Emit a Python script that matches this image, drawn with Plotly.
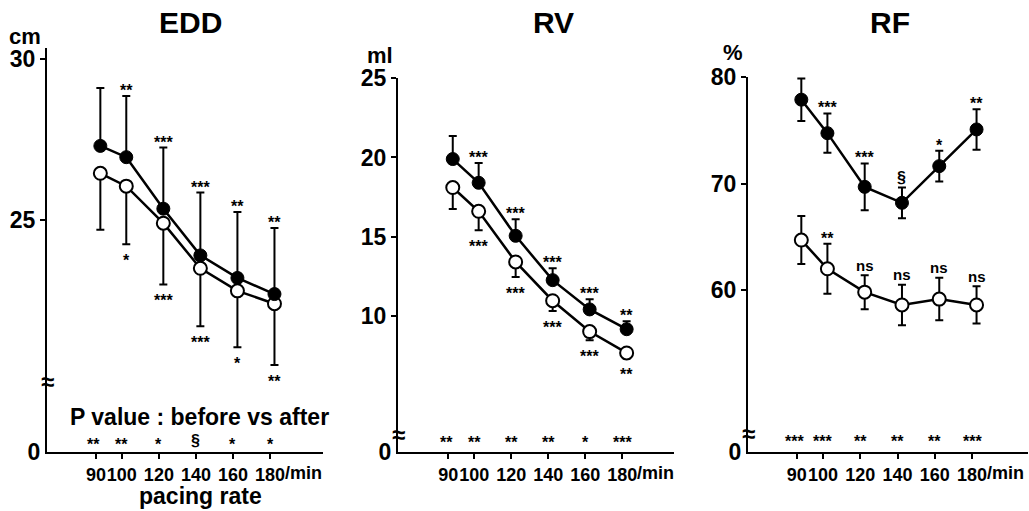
import plotly.graph_objects as go

# ---------------- data ----------------
rates = [90, 100, 120, 140, 160, 180]
rate_labels = ["90", "100", "120", "140", "160", "180"]

edd_filled = [27.3, 26.95, 25.35, 23.9, 23.2, 22.7]
edd_filled_sd = [1.8, 1.9, 1.9, 1.95, 2.05, 2.05]
edd_open = [26.45, 26.05, 24.9, 23.5, 22.8, 22.4]
edd_open_sd = [1.75, 1.8, 1.9, 1.8, 1.75, 1.9]
edd_sig_filled = ["", "**", "***", "***", "**", "**"]
edd_sig_open = ["", "*", "***", "***", "*", "**"]
edd_p = ["**", "**", "*", "§", "*", "*"]

rv_filled = [19.9, 18.4, 15.05, 12.25, 10.4, 9.15]
rv_filled_sd = [1.45, 1.25, 1.05, 0.75, 0.65, 0.5]
rv_open = [18.1, 16.6, 13.4, 10.95, 9.0, 7.65]
rv_open_sd = [1.35, 1.2, 0.95, 0.65, 0.55, 0.35]
rv_sig_filled = ["", "***", "***", "***", "***", "**"]
rv_sig_open = ["", "***", "***", "***", "***", "**"]
rv_p = ["**", "**", "**", "**", "*", "***"]

rf_filled = [77.9, 74.75, 69.7, 68.2, 71.65, 75.1]
rf_filled_sd = [2.0, 1.85, 2.2, 1.45, 1.45, 1.9]
rf_open = [64.7, 62.0, 59.8, 58.6, 59.15, 58.6]
rf_open_sd = [2.25, 2.35, 1.6, 1.9, 2.0, 1.75]
rf_sig_filled = ["", "***", "***", "§", "*", "**"]
rf_sig_open = ["", "**", "ns", "ns", "ns", "ns"]
rf_p = ["***", "***", "**", "**", "**", "***"]

# ---------------- layout helpers ----------------
W, H = 1029, 511
FONT = "Liberation Sans, Arial, Helvetica, sans-serif"
tick_pos = [0.3, 1, 2, 3, 4, 5]      # axis positions of the pacing-rate ticks
pt_off = 0.12                          # points drawn slightly right of ticks
pt_pos = [p + pt_off for p in tick_pos]


def fy(p):
    return 1 - p / H


def fx(p):
    return p / W


panels = [
    dict(title="EDD", unit="cm", filled=edd_filled, fsd=edd_filled_sd, open=edd_open, osd=edd_open_sd,
         sigf=edd_sig_filled, sigo=edd_sig_open, p=edd_p, both=False, open_above=False,
         xdom=(47, 323), xrng=(-1.02, 6.43), topdom=(48, 381), toprng=(20.0, 30.34),
         yticks=[25, 30], unit_xy=(25, 36), title_x=190, prow=440),
    dict(title="RV", unit="ml", filled=rv_filled, fsd=rv_filled_sd, open=rv_open, osd=rv_open_sd,
         sigf=rv_sig_filled, sigo=rv_sig_open, p=rv_p, both=False, open_above=False,
         xdom=(398, 674), xrng=(-1.06, 6.4), topdom=(78, 434), toprng=(2.53, 25.02),
         yticks=[10, 15, 20, 25], unit_xy=(380, 55), title_x=553, prow=438),
    dict(title="RF", unit="%", filled=rf_filled, fsd=rf_filled_sd, open=rf_open, osd=rf_open_sd,
         sigf=rf_sig_filled, sigo=rf_sig_open, p=rf_p, both=True, open_above=True,
         xdom=(748, 1028), xrng=(-1.01, 6.5), topdom=(77, 433), toprng=(46.56, 80.03),
         yticks=[60, 70, 80], unit_xy=(733, 52), title_x=890, prow=437),
]

fig = go.Figure()
annotations = []
layout = {}

SIG_FS = 16
AST_ADJ = -4.5
XT_FS = 18


def adj(t):
    return AST_ADJ if t and set(t) == {"*"} else 0


for i, P in enumerate(panels):
    xa = f"x{i + 1}" if i else "x"
    ya_top = f"y{2 * i + 1}" if i else "y"
    ya_bot = f"y{2 * i + 2}"
    xkey = f"xaxis{i + 1}" if i else "xaxis"
    ytkey = f"yaxis{2 * i + 1}" if i else "yaxis"
    ybkey = f"yaxis{2 * i + 2}"

    layout[xkey] = dict(
        domain=[fx(P["xdom"][0]), fx(P["xdom"][1])], range=list(P["xrng"]),
        anchor=ya_bot, showline=True, linecolor="black", linewidth=2,
        showgrid=False, zeroline=False, ticks="outside", ticklen=5, tickwidth=2,
        tickcolor="black", tickvals=tick_pos, ticktext=rate_labels, tickangle=0,
        automargin=False,
        tickfont=dict(family=FONT, size=XT_FS, color="black", weight="bold"),
    )
    layout[ytkey] = dict(
        domain=[fy(P["topdom"][1]), fy(P["topdom"][0])], range=list(P["toprng"]),
        anchor=xa, showline=True, linecolor="black", linewidth=2, automargin=False,
        showgrid=False, zeroline=False, ticks="outside", ticklen=5, tickwidth=2,
        tickcolor="black", tickvals=P["yticks"],
        tickfont=dict(family=FONT, size=23, color="black", weight="bold"),
    )
    layout[ybkey] = dict(
        domain=[fy(452), fy(P["topdom"][1])], range=[0, P["toprng"][0]],
        anchor=xa, showline=True, linecolor="black", linewidth=2, automargin=False,
        showgrid=False, zeroline=False, ticks="", tickvals=[0],
        tickfont=dict(family=FONT, size=23, color="black", weight="bold"),
    )

    if P["both"]:
        ef = dict(type="data", array=P["fsd"], visible=True, color="black", thickness=2, width=4)
        eo = dict(type="data", array=P["osd"], visible=True, color="black", thickness=2, width=4)
    else:
        ef = dict(type="data", symmetric=False, array=P["fsd"], arrayminus=[0] * 6,
                  visible=True, color="black", thickness=2, width=4)
        eo = dict(type="data", symmetric=False, array=[0] * 6, arrayminus=P["osd"],
                  visible=True, color="black", thickness=2, width=4)

    # empty trace so the lower (broken) axis segment exists as a subplot
    fig.add_trace(go.Scatter(
        x=[tick_pos[0]], y=[0], xaxis=xa, yaxis=ya_bot, mode="markers",
        marker=dict(opacity=0), hoverinfo="skip", showlegend=False))

    fig.add_trace(go.Scatter(
        x=pt_pos, y=P["open"], xaxis=xa, yaxis=ya_top, mode="lines+markers",
        line=dict(color="black", width=2.5), error_y=eo, cliponaxis=False,
        marker=dict(symbol="circle", size=13, color="white", line=dict(color="black", width=2)),
        showlegend=False))
    fig.add_trace(go.Scatter(
        x=pt_pos, y=P["filled"], xaxis=xa, yaxis=ya_top, mode="lines+markers",
        line=dict(color="black", width=2.5), error_y=ef, cliponaxis=False,
        marker=dict(symbol="circle", size=13, color="black", line=dict(color="black", width=1)),
        showlegend=False))

    # significance labels vs 90/min
    for k in range(6):
        t = P["sigf"][k]
        if t:
            annotations.append(dict(
                x=pt_pos[k], y=P["filled"][k] + P["fsd"][k], xref=xa, yref=ya_top,
                text=t, showarrow=False, yanchor="middle", yshift=10 + adj(t),
                font=dict(family=FONT, size=SIG_FS, color="black", weight="bold")))
        t = P["sigo"][k]
        if t:
            if P["open_above"]:
                y = P["open"][k] + P["osd"][k]
                ys = 10 + adj(t)
            else:
                y = P["open"][k] - P["osd"][k]
                ys = -12 + adj(t)
            annotations.append(dict(
                x=pt_pos[k], y=y, xref=xa, yref=ya_top,
                text=t, showarrow=False, yanchor="middle", yshift=ys,
                font=dict(family=FONT, size=SIG_FS if t != "ns" else 15, color="black", weight="bold")))
        t = P["p"][k]
        annotations.append(dict(
            x=tick_pos[k], y=fy(P["prow"]), xref=xa, yref="paper",
            text=t, showarrow=False, yanchor="middle", yshift=adj(t),
            xshift=-2 if k == 0 else 0,
            font=dict(family=FONT, size=SIG_FS, color="black", weight="bold")))

    # "/min" after the last tick label
    annotations.append(dict(
        x=tick_pos[5], y=fy(473), xref=xa, yref="paper", text="/min", showarrow=False,
        xanchor="left", yanchor="middle", xshift=13,
        font=dict(family=FONT, size=XT_FS, color="black", weight="bold")))

    # title and unit
    annotations.append(dict(
        x=fx(P["title_x"]), y=fy(22), xref="paper", yref="paper", text=P["title"],
        showarrow=False, xanchor="center", yanchor="middle",
        font=dict(family=FONT, size=30, color="black", weight="bold")))
    annotations.append(dict(
        x=fx(P["unit_xy"][0]), y=fy(P["unit_xy"][1]), xref="paper", yref="paper", text=P["unit"],
        showarrow=False, xanchor="center", yanchor="middle",
        font=dict(family=FONT, size=22, color="black", weight="bold")))

    # axis break mark
    annotations.append(dict(
        x=fx(P["xdom"][0]), y=fy(P["topdom"][1]), xref="paper", yref="paper", text="≈",
        showarrow=False, xanchor="center", yanchor="middle",
        font=dict(family=FONT, size=24, color="black", weight="bold")))

annotations.append(dict(
    x=fx(199), y=fy(417), xref="paper", yref="paper", text="P value : before vs after",
    showarrow=False, xanchor="center", yanchor="middle",
    font=dict(family=FONT, size=23, color="black", weight="bold")))
annotations.append(dict(
    x=fx(200), y=fy(496), xref="paper", yref="paper", text="pacing rate",
    showarrow=False, xanchor="center", yanchor="middle",
    font=dict(family=FONT, size=23, color="black", weight="bold")))

fig.update_layout(
    width=W, height=H, margin=dict(l=0, r=0, t=0, b=0, autoexpand=False),
    paper_bgcolor="white", plot_bgcolor="white",
    annotations=annotations, showlegend=False, **layout)

fig.write_html("out.html", config={"displayModeBar": False},
               post_script="document.body.style.margin='0px';")
